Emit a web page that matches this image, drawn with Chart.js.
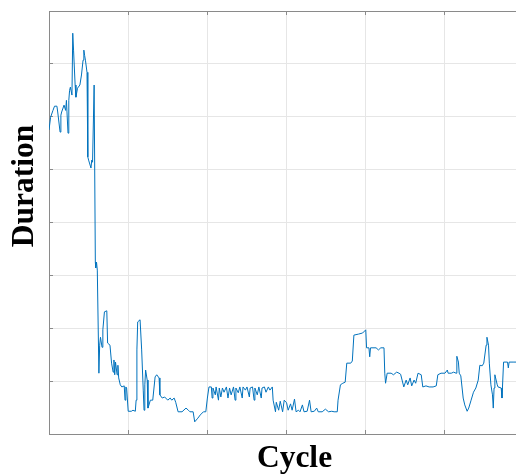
<!DOCTYPE html>
<html>
<head>
<meta charset="utf-8">
<title>Duration vs Cycle</title>
<script src="https://cdn.jsdelivr.net/npm/chart.js@4.4.1/dist/chart.umd.min.js"></script>
<style>
    html, body { margin: 0; padding: 0; background: #fff; overflow: hidden; }
    #chart-duration { display: block; }
</style>
</head>
<body>
<canvas id="chart-duration" width="540" height="474"></canvas>
<script>
// valores
const cycles = [
    0, 2, 5, 7, 10, 11, 14, 15, 16, 19, 21, 22, 24, 25, 26, 27, 29, 30, 31, 33,
    34, 36, 39, 41, 43, 44, 45, 46, 48, 49, 50, 53, 54, 55, 57, 58.5, 59, 60, 61, 63,
    64, 65, 67, 68, 70, 73, 74, 77, 79, 81, 82, 83, 84, 86, 87, 88, 90, 92, 95, 96,
    97, 98, 100, 104, 106, 109, 110, 111, 112, 115, 116, 117, 119, 120, 121, 122, 124, 125, 128, 130,
    131, 134, 136, 139, 140, 143, 146, 150, 153, 155, 158, 160, 163, 168, 173, 176, 178, 182, 184, 188,
    191, 195, 198, 200, 202, 205, 206, 207, 210, 211, 214, 215, 217, 219, 221, 224, 226, 228, 230, 233,
    235, 236, 239, 241, 244, 245, 248, 250, 253, 254, 257, 259, 260, 263, 265, 268, 269, 272, 274, 277,
    279, 282, 283, 286, 287, 290, 292, 295, 297, 300, 302, 305, 307, 310, 312, 315, 317, 320, 322, 326,
    329, 331, 335, 338, 340, 345, 349, 353, 357, 360, 364, 365, 368, 371, 374, 376, 381, 383, 385, 391,
    396, 400, 401, 404, 405, 406, 413, 416, 419, 423, 424, 425, 427, 432, 435, 439, 442, 444, 448, 451,
    453, 456, 458, 461, 463, 466, 470, 472, 476, 480, 485, 489, 491, 495, 500, 503, 504, 508, 511, 514,
    515, 517, 518, 520, 523, 525, 528, 530, 533, 536, 539, 542, 544, 547, 549, 552, 553, 555, 556, 558,
    560, 561, 562, 563, 566, 567, 571, 572, 574, 579, 580, 581, 586, 591, 599
];
const duration = [
    57.5, 59.9, 61.2, 62.0, 62.0, 60.9, 57.1, 60.3, 60.9, 62.2, 61.2, 63.1, 56.9, 63.1, 65.0, 65.6, 64.1, 75.8, 72.6, 66.0,
    63.7, 65.4, 66.0, 67.9, 70.7, 72.6, 71.6, 70.7, 68.4, 52.4, 51.8, 50.3, 51.8, 51.4, 66.0, 32.5, 31.4, 32.5, 31.0, 11.5,
    16.8, 18.3, 16.4, 19.7, 23.1, 23.3, 17.2, 16.8, 13.4, 11.7, 14.0, 11.2, 13.6, 11.2, 13.0, 10.6, 9.3, 8.9, 9.1, 6.4,
    8.9, 8.7, 4.3, 4.3, 4.5, 4.3, 6.4, 15.9, 21.2, 21.6, 21.6, 15.9, 8.3, 4.5, 9.3, 12.1, 10.2, 4.9, 6.4, 6.4,
    6.4, 10.8, 11.2, 10.6, 7.4, 6.8, 7.0, 6.4, 6.8, 6.4, 6.8, 6.0, 4.2, 4.2, 4.9, 4.5, 4.2, 4.2, 2.3, 3.0,
    3.6, 4.2, 4.2, 6.8, 8.9, 8.9, 6.8, 8.7, 7.4, 8.9, 6.4, 8.7, 7.0, 8.7, 7.9, 8.9, 6.8, 8.7, 7.4, 8.9,
    6.4, 8.7, 7.8, 8.9, 6.8, 8.9, 8.3, 8.9, 7.0, 8.7, 8.9, 6.4, 8.7, 7.4, 8.9, 6.8, 8.7, 8.9, 7.9, 8.9,
    8.3, 8.9, 6.4, 4.2, 6.0, 4.5, 6.2, 4.2, 6.4, 5.9, 4.5, 5.7, 4.5, 6.6, 4.2, 4.5, 4.2, 5.5, 4.2, 4.3,
    6.4, 4.2, 4.3, 4.9, 4.2, 4.2, 4.7, 4.2, 4.3, 4.2, 4.2, 6.4, 9.3, 9.6, 9.8, 13.4, 13.4, 13.8, 18.7, 18.9,
    19.1, 19.7, 16.3, 16.3, 14.6, 16.3, 16.3, 15.9, 16.3, 16.3, 11.5, 9.6, 11.5, 11.5, 11.2, 11.7, 11.5, 11.3, 8.9, 10.2,
    9.3, 10.6, 9.1, 10.2, 9.6, 11.5, 11.2, 8.9, 9.1, 8.9, 8.9, 9.1, 11.2, 11.5, 11.5, 12.1, 11.5, 11.5, 11.7, 11.5,
    14.7, 13.6, 11.5, 11.0, 6.8, 5.5, 4.3, 4.9, 6.4, 7.9, 8.7, 10.2, 13.0, 12.9, 13.4, 16.8, 18.3, 16.8, 13.4, 9.3,
    7.4, 4.9, 8.7, 11.2, 9.3, 8.9, 8.7, 6.8, 13.6, 13.6, 12.5, 13.6, 13.6, 13.6, 13.6
];
const cycleTicks = [0, 100, 200, 300, 400, 500, 600];
const durationTicks = [0, 10, 20, 30, 40, 50, 60, 70, 80];

const tituloY = {
    id: "tituloY",
    afterDraw(chart) {
        const ctx = chart.ctx;
        ctx.save();
        ctx.translate(25, 186);
        ctx.rotate(-Math.PI / 2);
        ctx.font = "bold 31.5px 'Liberation Serif', 'Times New Roman', serif";
        ctx.fillStyle = "#000";
        ctx.textAlign = "center";
        ctx.textBaseline = "middle";
        ctx.fillText("Duration", 0, 0);
        ctx.restore();
    },
};

class GraficoDuracion {
    constructor() {
        this.instance;
    }
    init() {
        const ctx = document.getElementById("chart-duration").getContext("2d");
        const puntos = cycles.map((c, i) => ({ x: c, y: duration[i] }));
        const ejeColor = "#8a8a8a";
        const gridColor = "#e6e6e6";
        const fijarTicks = (lista) => (scale) => {
            scale.ticks = lista.map((v) => ({ value: v }));
        };
        this.instance = new Chart(ctx, {
            type: "line",
            data: {
                datasets: [
                    {
                        label: "Duration",
                        data: puntos,
                        borderColor: "#0072BD",
                        borderWidth: 1,
                        pointRadius: 0,
                        tension: 0,
                        fill: false,
                    },
                ],
            },
            options: {
                responsive: false,
                animation: false,
                events: [],
                layout: { padding: { top: 11, right: 0, bottom: 0, left: 0 } },
                plugins: {
                    legend: { display: false },
                    tooltip: { enabled: false },
                },
                scales: {
                    x: {
                        type: "linear",
                        min: 0,
                        max: 620,
                        afterBuildTicks: fijarTicks(cycleTicks),
                        afterFit: (scale) => { scale.height = 40; },
                        ticks: { display: false },
                        grid: { color: gridColor, tickColor: ejeColor, tickLength: -4, lineWidth: 1 },
                        border: { display: true, color: ejeColor, width: 1 },
                        title: {
                            display: true,
                            text: "Cycle",
                            color: "#000",
                            padding: { top: 0, bottom: -4 },
                            font: { family: "'Liberation Serif', 'Times New Roman', serif", size: 31.5, weight: "bold" },
                        },
                    },
                    x2: {
                        type: "linear",
                        position: "top",
                        min: 0,
                        max: 620,
                        afterBuildTicks: fijarTicks(cycleTicks),
                        afterFit: (scale) => { scale.height = 0; },
                        ticks: { display: false },
                        grid: { drawOnChartArea: false, tickColor: ejeColor, tickLength: -4 },
                        border: { display: true, color: ejeColor, width: 1 },
                    },
                    y: {
                        type: "linear",
                        min: 0,
                        max: 80,
                        afterBuildTicks: fijarTicks(durationTicks),
                        afterFit: (scale) => { scale.width = 49; },
                        ticks: { display: false },
                        grid: { color: gridColor, tickColor: ejeColor, tickLength: -4, lineWidth: 1 },
                        border: { display: true, color: ejeColor, width: 1 },
                    },
                },
            },
            plugins: [tituloY],
        });
    }
}

document.addEventListener("DOMContentLoaded", function () {
    const grafico = new GraficoDuracion();
    grafico.init();
});
</script>
</body>
</html>
